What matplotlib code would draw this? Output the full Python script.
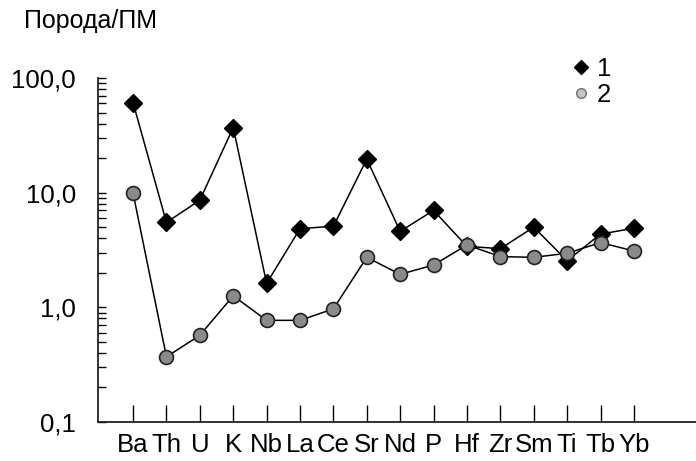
import matplotlib
matplotlib.use("Agg")
import matplotlib.pyplot as plt
from matplotlib.lines import Line2D
from matplotlib.ticker import FixedLocator, LogLocator, NullFormatter

plt.rcParams['font.family'] = ['Liberation Sans', 'DejaVu Sans']

elements = ['Ba', 'Th', 'U', 'K', 'Nb', 'La', 'Ce', 'Sr', 'Nd', 'P', 'Hf',
            'Zr', 'Sm', 'Ti', 'Tb', 'Yb']
series1 = [61, 5.5, 8.6, 37, 1.62, 4.85, 5.1, 19.6, 4.6, 7.0, 3.4,
           3.25, 5.0, 2.55, 4.35, 4.9]
series2 = [9.9, 0.37, 0.57, 1.26, 0.77, 0.77, 0.97, 2.73, 1.94, 2.34, 3.5,
           2.77, 2.73, 2.96, 3.67, 3.1]
yticks = [0.1, 1.0, 10.0, 100.0]
ytick_labels = ['0,1', '1,0', '10,0', '100,0']

W, H = 696, 461
fig = plt.figure(figsize=(W / 100, H / 100), dpi=100)
ax = fig.add_axes([98 / W, 39 / H, 598 / W, 344 / H])

x = list(range(len(elements)))
ax.plot(x, series1, color='black', lw=1.1, marker='D', ms=8.8,
        mfc='black', mec='black', zorder=3)
ax.plot(x, series2, color='black', lw=1.1, marker='o', ms=10,
        mfc='#8a8a8a', mec='#222222', mew=1.2, zorder=4)

ax.set_yscale('log')
ax.set_ylim(0.1, 100)
ax.set_xlim(-1.05, 16.86)

ax.yaxis.set_major_locator(FixedLocator(yticks))
ax.set_yticklabels(ytick_labels)
ax.yaxis.set_minor_locator(LogLocator(base=10, subs=range(2, 10)))
ax.yaxis.set_minor_formatter(NullFormatter())
ax.tick_params(axis='y', which='both', direction='in', length=6, width=1,
               labelsize=18.5, pad=16)

ax.set_xticks(x)
ax.set_xticklabels(elements)
ax.tick_params(axis='x', direction='in', length=12, width=1,
               labelsize=18.5, pad=8)

for side in ['top', 'right']:
    ax.spines[side].set_visible(False)
for side in ['left', 'bottom']:
    ax.spines[side].set_linewidth(1.3)
    ax.spines[side].set_color('#222222')

fig.text(24 / W, 1 - 28.3 / H, 'Порода/ПМ', fontsize=18, va='baseline',
         ha='left')

handles = [
    Line2D([], [], ls='none', marker='D', ms=7.5, mfc='black', mec='black'),
    Line2D([], [], ls='none', marker='o', ms=7, mfc='#c4c4c4',
           mec='#707070'),
]
fig.legend(handles, ['1', '2'], loc='upper left',
           bbox_to_anchor=(568 / W, 1 - 57 / H),
           frameon=False, fontsize=18.5,
           handlelength=1.0, handletextpad=0.12, labelspacing=0.07,
           borderpad=0, borderaxespad=0)

fig.savefig('out.png', dpi=100)
